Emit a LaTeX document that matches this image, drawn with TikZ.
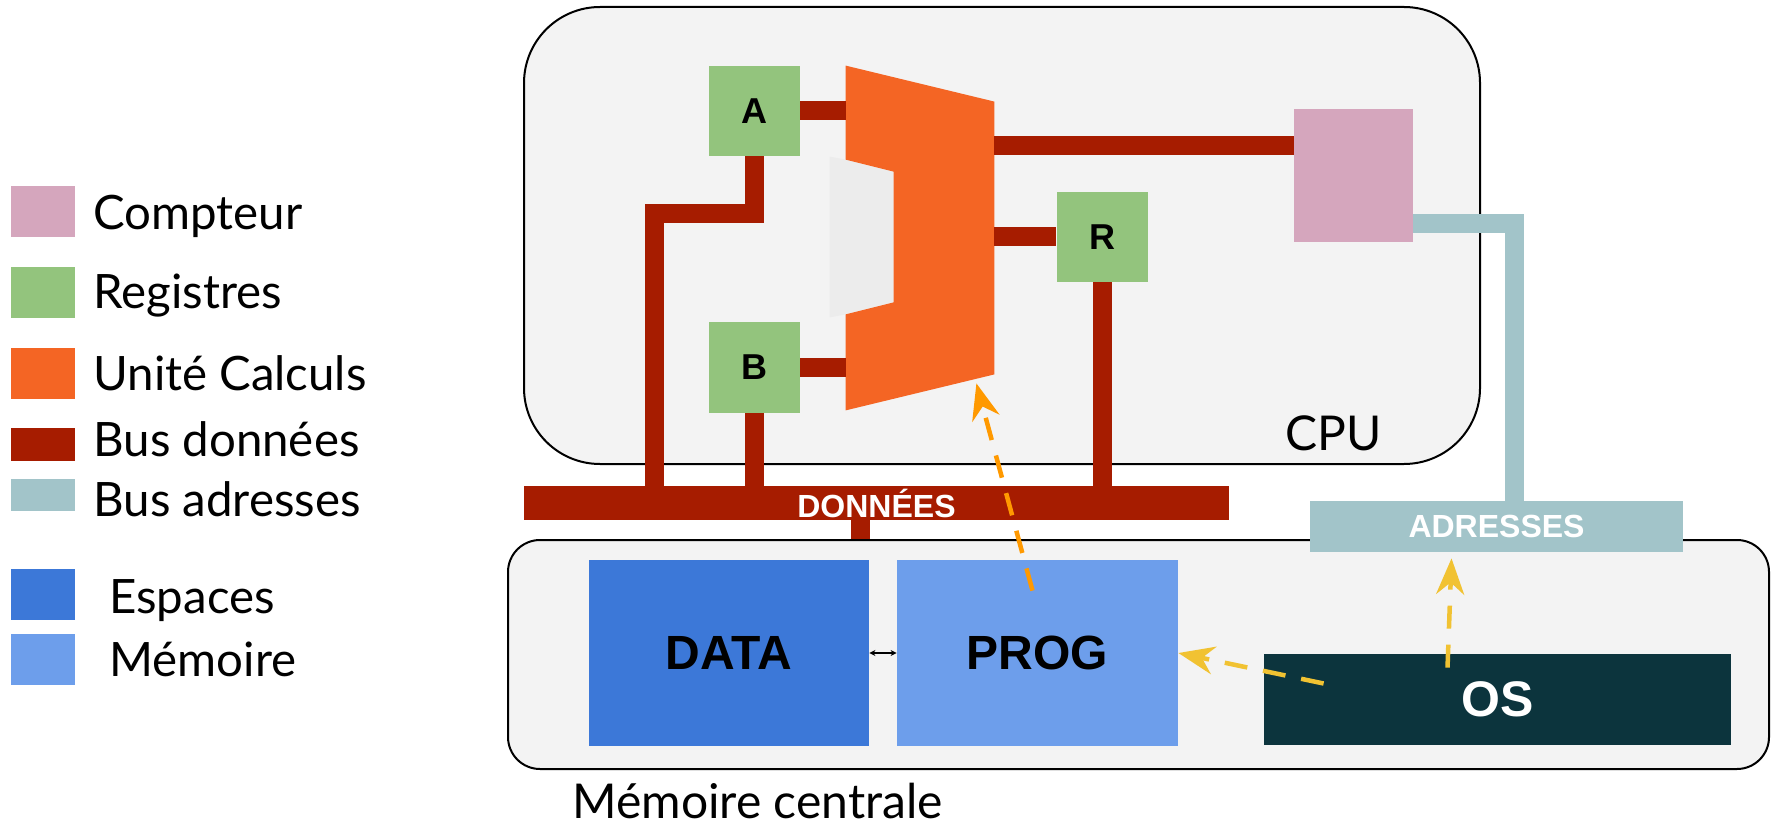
\documentclass[tikz,border=0pt]{standalone}
\usepackage{fontspec}
\setmainfont{Lato}
\newfontfamily\arialfont{Liberation Sans}
\usetikzlibrary{arrows.meta,calc}

\definecolor{cpugray}{HTML}{F3F3F3}
\definecolor{ghostgray}{HTML}{ECECEC}
\definecolor{regreen}{HTML}{93C47D}
\definecolor{cptpink}{HTML}{D5A6BD}
\definecolor{aluorange}{HTML}{F46524}
\definecolor{busred}{HTML}{A61C00}
\definecolor{adrteal}{HTML}{A2C4C9}
\definecolor{datablue}{HTML}{3C78D8}
\definecolor{progblue}{HTML}{6D9EEB}
\definecolor{osgreen}{HTML}{0C343D}
\definecolor{arrorange}{HTML}{FF9900}
\definecolor{arryellow}{HTML}{F1C232}

\tikzstyle{box}=[rectangle,inner sep=0pt,font=\arialfont\bfseries]
\tikzstyle{unit}=[rectangle,draw,line width=1pt,fill=cpugray]
\tikzstyle{reg}=[box,fill=regreen,minimum width=45.5pt,minimum height=45pt,font=\arialfont\bfseries\fontsize{18}{18}\selectfont]
\tikzstyle{space}=[box,minimum width=140pt,minimum height=93pt,font=\arialfont\bfseries\fontsize{24}{24}\selectfont]
\tikzstyle{busbar}=[box,minimum height=17pt,text=white,font=\arialfont\bfseries\fontsize{16}{16}\selectfont]
\tikzstyle{bus}=[busred,line width=9.5pt]
\tikzstyle{abus}=[adrteal,line width=9.5pt]
\tikzstyle{flow}=[line width=2.25pt,dash pattern=on 11.5pt off 8pt,-{Stealth[length=18pt,width=14pt,inset=6pt]}]
\tikzstyle{key}=[rectangle,inner sep=0pt,minimum width=32pt,minimum height=25.5pt]
\tikzstyle{keytext}=[anchor=base west,inner sep=0pt,font=\fontsize{23.7}{23.7}\selectfont]

\begin{document}
\begin{tikzpicture}[x=0.5pt,y=-0.5pt]
\useasboundingbox (0,0) rectangle (1775,828);

% legend
\node[key,fill=cptpink] (kcpt) at (43,211.5) {};
\node[keytext] (tcpt) at (93,230) {Compteur};
\node[key,fill=regreen] (kreg) at (43,292.5) {};
\node[keytext] (treg) at (93,309) {Registres};
\node[key,fill=aluorange] (kalu) at (43,373) {};
\node[keytext] (talu) at (93,390) {Unité Calculs};
\node[key,fill=busred,minimum height=16.5pt] (kbus) at (43,444.5) {};
\node[keytext] (tbus) at (93,456) {Bus données};
\node[key,fill=adrteal,minimum height=16pt] (kadr) at (43,495) {};
\node[keytext] (tadr) at (93,516) {Bus adresses};
\node[key,fill=datablue] (kdata) at (43,594.5) {};
\node[keytext] (tdata) at (109,613) {Espaces};
\node[key,fill=progblue] (kprog) at (43,659.5) {};
\node[keytext] (tprog) at (109,676) {Mémoire};

% processor and memory
\node[unit,rounded corners=38pt,minimum width=478pt,minimum height=228.5pt] (cpu) at (1002,235.5) {};
\node[keytext,font=\fontsize{24}{24}\selectfont] (cpulbl) at (1285,450) {CPU};
\node[unit,rounded corners=16pt,minimum width=630.5pt,minimum height=114.5pt] (mem) at (1138.5,654.5) {};
\node[keytext,font=\fontsize{24}{24}\selectfont] (memlbl) at (572,818) {Mémoire centrale};

% ALU
\node[inner sep=0pt,minimum width=74pt,minimum height=172pt] (alu) at (920,238) {};
\fill[ghostgray] ($(alu.north west)+(-16,91)$) -- ($(alu.north west)+(0,94)$) -- ($(alu.north west)+(48,106)$)
  -- ($(alu.south west)+(48,-108)$) -- ($(alu.south west)+(0,-96)$) -- ($(alu.south west)+(-16,-93)$) -- cycle;
\fill[aluorange] (alu.north west) -- ($(alu.north east)+(0,36)$) -- ($(alu.south east)+(0,-36)$) -- (alu.south west)
  -- ($(alu.south west)+(0,-96)$) -- ($(alu.south west)+(48,-108)$) -- ($(alu.north west)+(48,106)$)
  -- ($(alu.north west)+(0,94)$) -- cycle;

% registers and counter
\node[reg] (a) at (754.5,111) {A};
\node[reg] (b) at (754.5,367.5) {B};
\node[reg] (r) at (1102,237) {R};
\node[box,fill=cptpink,minimum width=59.5pt,minimum height=66.5pt] (cpt) at (1353.5,175.5) {};

% buses
\node[busbar,fill=busred,minimum width=352.5pt] (dbus) at (876.5,503) {DONNÉES};
\draw[bus] (a.east) -- (a.east -| alu.west);
\draw[bus] (b.east) -- (b.east -| alu.west);
\draw[bus] (r.west -| alu.east) -- (r.west);
\draw[bus] ([yshift=15pt]cpt.west -| alu.east) -- ([yshift=15pt]cpt.west);
\draw[bus] (a.south) -- ++(0,57) -| ($(dbus.north west)+(131,0)$);
\draw[bus] (b.south) -- (b.south |- dbus.north);
\draw[bus] (r.south) -- (r.south |- dbus.north);
\draw[bus] ([xshift=-8pt]dbus.south) -- ([xshift=-8pt]dbus.south |- mem.north);
\node[busbar,fill=adrteal,minimum width=186.5pt,minimum height=25.5pt] (adr) at (1496.5,526.5) {ADRESSES};
\draw[abus] ([yshift=-24pt]cpt.east) -| ([xshift=9pt]adr.north);

% memory spaces
\node[space,fill=datablue] (data) at (729,653) {DATA};
\node[space,fill=progblue,minimum width=140.5pt] (prog) at (1037.5,653) {PROG};
\node[space,fill=osgreen,text=white,minimum width=233.5pt,minimum height=45.5pt,font=\arialfont\bfseries\fontsize{25}{25}\selectfont] (os) at (1497.5,699.5) {OS};
\draw[{Stealth[length=3pt,width=3pt]}-{Stealth[length=3pt,width=3pt]},line width=0.6pt] (data.east) -- (prog.west);

% flows
\draw[flow,arrorange] ($(prog.north)+(-5,31)$) -- ($(alu.south east)+(-18,-27)$);
\draw[flow,arryellow] ($(os.west)+(60,-16)$) -- (prog.east);
\draw[flow,arryellow] ($(os.north)+(-50,14)$) -- ($(adr.south)+(-45,6)$);
\end{tikzpicture}
\end{document}
